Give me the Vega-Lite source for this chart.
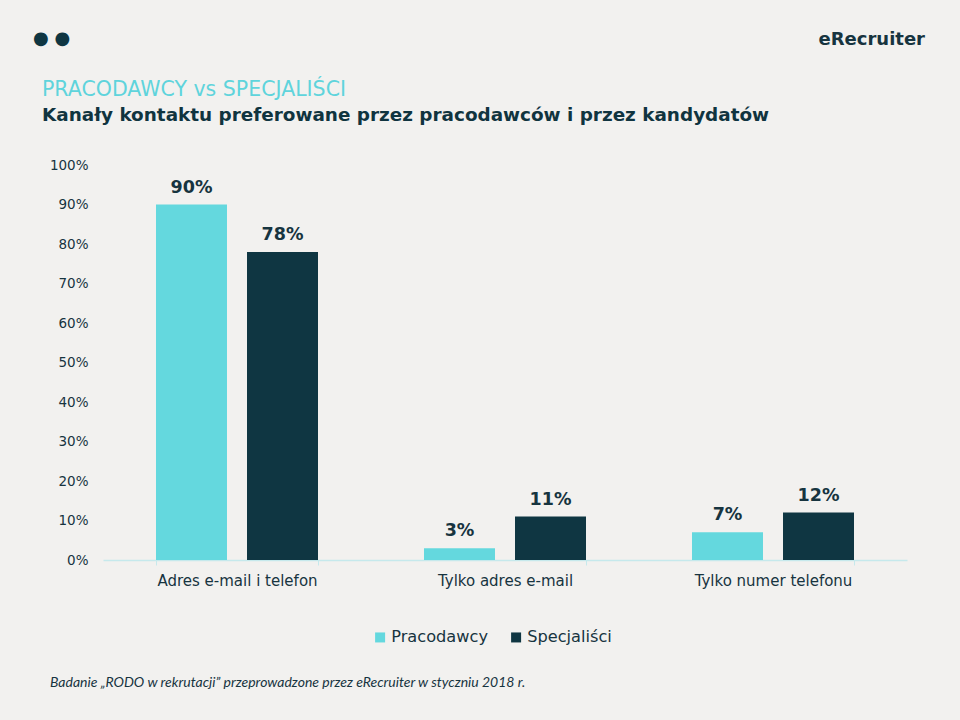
{
  "$schema": "https://vega.github.io/schema/vega-lite/v6.json",
  "background": "#f2f1ef",
  "padding": {"left": 33, "top": 30, "right": 35, "bottom": 37},
  "columns": 1,
  "spacing": 30,
  "resolve": {"legend": {"color": "independent"}},
  "config": {"view": {"stroke": null}, "font": "DejaVu Sans"},
  "concat": [
    {
      "width": 822,
      "height": 20,
      "data": {"values": [{"item": "dots", "label": "● ●"}, {"item": "logo", "label": "eRecruiter"}]},
      "layer": [
        {
          "transform": [{"filter": "datum.item === 'dots'"}],
          "mark": {"type": "text", "align": "left", "baseline": "middle", "dx": -70, "dy": -1, "fontSize": 18, "color": "#0f3642", "font": "DejaVu Sans"},
          "encoding": {
            "x": {"field": "item", "type": "nominal", "bandPosition": 0, "axis": null, "scale": {"type": "band", "domain": ["dots", "logo"], "paddingInner": 0, "paddingOuter": 0}},
            "text": {"field": "label"}
          }
        },
        {
          "transform": [{"filter": "datum.item === 'logo'"}],
          "mark": {"type": "text", "align": "right", "baseline": "middle", "fontSize": 18, "fontWeight": "bold", "color": "#17343f", "font": "DejaVu Sans"},
          "encoding": {
            "x": {"field": "item", "type": "nominal", "bandPosition": 1, "axis": null, "scale": {"type": "band", "domain": ["dots", "logo"], "paddingInner": 0, "paddingOuter": 0}},
            "text": {"field": "label"}
          }
        }
      ]
    },
    {
      "width": 804,
      "height": 395,
      "title": {
        "text": "PRACODAWCY vs SPECJALIŚCI",
        "subtitle": "Kanały kontaktu preferowane  przez pracodawców  i przez kandydatów",
        "anchor": "start",
        "frame": "group",
        "dx": -61,
        "font": "DejaVu Sans",
        "color": "#5fd4dc",
        "fontSize": 20.5,
        "fontWeight": "normal",
        "subtitleFont": "DejaVu Sans",
        "subtitleColor": "#10343f",
        "subtitleFontSize": 18.4,
        "subtitleFontWeight": "bold",
        "subtitlePadding": 5,
        "offset": 34
      },
      "data": {
        "values": [
          {"kanal": "Adres e-mail i telefon", "grupa": "Pracodawcy", "wartosc": 0.90},
          {"kanal": "Adres e-mail i telefon", "grupa": "Specjaliści", "wartosc": 0.78},
          {"kanal": "Tylko adres e-mail", "grupa": "Pracodawcy", "wartosc": 0.03},
          {"kanal": "Tylko adres e-mail", "grupa": "Specjaliści", "wartosc": 0.11},
          {"kanal": "Tylko numer telefonu", "grupa": "Pracodawcy", "wartosc": 0.07},
          {"kanal": "Tylko numer telefonu", "grupa": "Specjaliści", "wartosc": 0.12}
        ]
      },
      "encoding": {
        "x": {
          "field": "kanal",
          "type": "nominal",
          "sort": ["Adres e-mail i telefon", "Tylko adres e-mail", "Tylko numer telefonu"],
          "scale": {"paddingInner": 0.3955, "paddingOuter": 0.19775},
          "axis": {
            "title": null,
            "labelAngle": 0,
            "domainColor": "#c6e9ec",
            "domainWidth": 1.5,
            "tickColor": "#c6e9ec",
            "tickBand": "extent",
            "tickSize": 5,
            "labelFontSize": 15,
            "labelColor": "#17343f",
            "labelPadding": 8
          }
        },
        "xOffset": {
          "field": "grupa",
          "type": "nominal",
          "sort": ["Pracodawcy", "Specjaliści"],
          "scale": {"paddingInner": 0.22, "paddingOuter": 0}
        },
        "y": {
          "field": "wartosc",
          "type": "quantitative",
          "scale": {"domain": [0, 1]},
          "axis": {
            "title": null,
            "values": [0, 0.1, 0.2, 0.3, 0.4, 0.5, 0.6, 0.7, 0.8, 0.9, 1],
            "format": ".0%",
            "domain": false,
            "ticks": false,
            "grid": false,
            "labelFontSize": 13.5,
            "labelColor": "#17343f",
            "labelPadding": 15
          }
        }
      },
      "layer": [
        {
          "mark": {"type": "bar"},
          "encoding": {
            "color": {
              "field": "grupa",
              "type": "nominal",
              "sort": ["Pracodawcy", "Specjaliści"],
              "scale": {"domain": ["Pracodawcy", "Specjaliści"], "range": ["#64d8de", "#0f3642"]},
              "legend": {
                "orient": "none",
                "legendX": 269,
                "legendY": 464,
                "padding": 0,
                "direction": "horizontal",
                "title": null,
                "symbolType": "square",
                "symbolSize": 100,
                "symbolStrokeWidth": 0,
                "labelFontSize": 16.2,
                "labelColor": "#17343f",
                "labelOffset": 3,
                "columnPadding": 20
              }
            }
          }
        },
        {
          "mark": {"type": "text", "baseline": "alphabetic", "dy": -12, "fontSize": 17.5, "fontWeight": "bold", "color": "#17343f"},
          "encoding": {
            "text": {"field": "wartosc", "type": "quantitative", "format": ".0%"}
          }
        }
      ]
    },
    {
      "width": 600,
      "height": 6,
      "data": {"values": [{"note": "Badanie „RODO w rekrutacji” przeprowadzone przez eRecruiter  w styczniu 2018 r."}]},
      "mark": {"type": "text", "align": "left", "baseline": "middle", "dx": -53, "fontSize": 14, "fontStyle": "italic", "font": "Lato", "color": "#17343f"},
      "encoding": {
        "x": {"field": "note", "type": "nominal", "bandPosition": 0, "axis": null, "scale": {"type": "band", "paddingInner": 0, "paddingOuter": 0}},
        "text": {"field": "note"}
      }
    }
  ]
}
